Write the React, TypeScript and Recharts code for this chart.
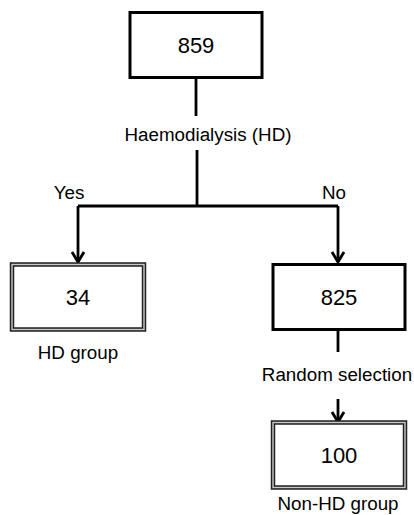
import React from 'react';
import { ScatterChart, Scatter, XAxis, YAxis, ReferenceLine } from 'recharts';

// Flow chart nodes (counts) and where they sit in the layout (x: 0-414, y: 0-515, y down)
const nodeCounts = ['859', '34', '825', '100'];
const nodeX = [196, 78, 339, 339];
const nodeY = [45, 297, 297, 455];
const nodeDouble = [false, true, false, true];

// text labels of the flow
const labelTexts = ['Haemodialysis (HD)', 'Yes', 'No', 'HD group', 'Random selection', 'Non-HD group'];
const labelX = [208, 69, 334, 78, 337, 338];
const labelY = [134, 192, 192, 352, 374, 503];

// connectors: [x1, y1, x2, y2]
const edges: [number, number, number, number][] = [
  [196, 77, 196, 116],
  [197, 150, 197, 206],
  [78, 206, 338, 206],
  [78, 206, 78, 262],
  [338, 206, 338, 262],
  [338, 329, 338, 352],
  [338, 399, 338, 422],
];
// arrow tips
const arrowX = [78, 338, 338];
const arrowY = [262, 262, 422];

const FONT = '"Liberation Sans", Arial, sans-serif';
const BOX_W = 132;
const BOX_H = 65;

const nodes = nodeCounts.map((c, i) => ({ x: nodeX[i], y: nodeY[i], count: c, dbl: nodeDouble[i] }));
const labels = labelTexts.map((t, i) => ({ x: labelX[i], y: labelY[i], text: t }));
const arrows = arrowX.map((x, i) => ({ x, y: arrowY[i] }));

const BoxShape = (props: any) => {
  const { cx, cy, payload } = props;
  const x = cx - BOX_W / 2;
  const y = cy - BOX_H / 2;
  return (
    <g>
      {payload.dbl ? (
        <>
          <rect x={x} y={y} width={BOX_W} height={BOX_H} fill="#fff" stroke="#222" strokeWidth={4.5} />
          <rect x={x} y={y} width={BOX_W} height={BOX_H} fill="none" stroke="#c8c8c8" strokeWidth={1.4} />
        </>
      ) : (
        <rect x={x} y={y} width={BOX_W} height={BOX_H} fill="#fff" stroke="#000" strokeWidth={3} />
      )}
      <text x={cx} y={cy} textAnchor="middle" dominantBaseline="central" fontSize={22} fontFamily={FONT} fill="#000">
        {payload.count}
      </text>
    </g>
  );
};

const LabelShape = (props: any) => {
  const { cx, cy, payload } = props;
  return (
    <text x={cx} y={cy} textAnchor="middle" dominantBaseline="central" fontSize={18.8} fontFamily={FONT} fill="#000">
      {payload.text}
    </text>
  );
};

const ArrowShape = (props: any) => {
  const { cx, cy } = props;
  return (
    <path
      d={`M${cx - 6},${cy - 10} L${cx},${cy} L${cx + 6},${cy - 10}`}
      fill="none"
      stroke="#000"
      strokeWidth={2.8}
      strokeLinejoin="miter"
    />
  );
};

export default function App() {
  return (
    <div style={{ position: 'absolute', left: 0, top: 0, background: '#fff' }}>
      <ScatterChart width={414} height={515} margin={{ top: 0, right: 0, bottom: 0, left: 0 }}>
        <XAxis type="number" dataKey="x" domain={[0, 414]} hide />
        <YAxis type="number" dataKey="y" domain={[0, 515]} reversed hide width={0} />
        {edges.map((e, i) => (
          <ReferenceLine
            key={i}
            segment={[{ x: e[0], y: e[1] }, { x: e[2], y: e[3] }]}
            stroke="#000"
            strokeWidth={2.8}
            ifOverflow="visible"
          />
        ))}
        <Scatter data={arrows} shape={ArrowShape} isAnimationActive={false} />
        <Scatter data={nodes} shape={BoxShape} isAnimationActive={false} />
        <Scatter data={labels} shape={LabelShape} isAnimationActive={false} />
      </ScatterChart>
    </div>
  );
}
